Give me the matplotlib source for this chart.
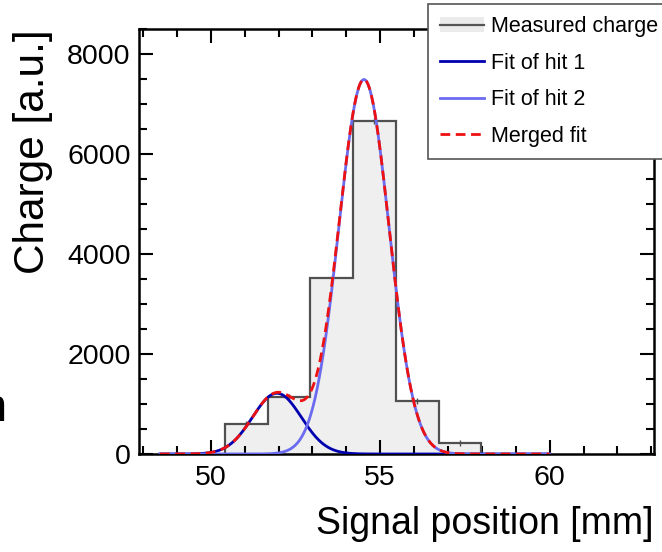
import numpy as np
import matplotlib
matplotlib.use("Agg")
import matplotlib.pyplot as plt
from matplotlib.patches import Patch
from matplotlib.lines import Line2D
from matplotlib.ticker import MultipleLocator

plt.rcParams['font.family'] = ['Liberation Sans', 'DejaVu Sans']

# ---- data ----
bin_edges = [50.42, 51.68, 52.94, 54.20, 55.46, 56.72, 57.98]
bin_charge = [610, 1140, 3530, 6660, 1065, 225]

hit1_amp, hit1_mean, hit1_sigma = 1215, 51.95, 0.72
hit2_amp, hit2_mean, hit2_sigma = 7490, 54.52, 0.74
fit_range = [48.5, 60.0]

legend_labels = ["Measured charge", "Fit of hit 1", "Fit of hit 2", "Merged fit"]
xlabel = "Signal position [mm]"
ylabel = "Charge [a.u.]"

# ---- figure ----
fig = plt.figure(figsize=(6.62, 5.52), dpi=100)
ax = fig.add_axes([139/662, 1-454/552, (654-139)/662, (454-29)/552])

edges = np.array(bin_edges)
vals = np.array(bin_charge)
ax.stairs(vals, edges, fill=True, facecolor='#efefef', edgecolor='none', zorder=1)
ax.stairs(vals, edges, fill=False, edgecolor='#505050', linewidth=1.6, zorder=2)
centers = 0.5 * (edges[:-1] + edges[1:])
ax.plot(centers, vals, linestyle='none', marker='|', markersize=4, color='#505050', zorder=2)

x = np.linspace(fit_range[0], fit_range[1], 800)
g1 = hit1_amp * np.exp(-0.5 * ((x - hit1_mean) / hit1_sigma) ** 2)
g2 = hit2_amp * np.exp(-0.5 * ((x - hit2_mean) / hit2_sigma) ** 2)
ax.plot(x, g1, color='#0000b0', linewidth=2.0, zorder=3)
ax.plot(x, g2, color='#6b6bf0', linewidth=2.0, zorder=4)
ax.plot(x, g1 + g2, color='#ee1111', linewidth=2.0, dashes=(3.5, 2.0), zorder=5)

ax.set_xlim(47.88, 63.08)
ax.set_ylim(0, 8500)
ax.xaxis.set_major_locator(MultipleLocator(5))
ax.xaxis.set_minor_locator(MultipleLocator(1))
ax.yaxis.set_major_locator(MultipleLocator(2000))
ax.yaxis.set_minor_locator(MultipleLocator(500))
ax.tick_params(which='both', direction='in', top=True, right=True, width=1.5, color='black')
ax.tick_params(which='major', length=10, labelsize=20.5)
ax.tick_params(which='minor', length=5.5)
ax.tick_params(axis='x', which='major', pad=8)
ax.tick_params(axis='y', which='major', pad=6)
for s in ax.spines.values():
    s.set_linewidth(1.8)

ax.set_xlabel(xlabel, fontsize=27, loc='right', labelpad=11)
ax.set_ylabel(ylabel, fontsize=30.5, loc='top', labelpad=10)

handles = [
    (Patch(facecolor='#ebebeb', edgecolor='none'), Line2D([], [], color='#555555', linewidth=1.6)),
    Line2D([], [], color='#0000b0', linewidth=2.0),
    Line2D([], [], color='#6b6bf0', linewidth=2.0),
    Line2D([], [], color='#ee1111', linewidth=2.0, dashes=(3.5, 2.0)),
]
leg = fig.legend(handles, legend_labels, loc='upper left',
                 bbox_to_anchor=(428/662, 1 - 4/552), fontsize=15.5,
                 frameon=True, fancybox=False, framealpha=1.0, edgecolor='#555555',
                 handlelength=2.0, handletextpad=0.34, labelspacing=0.72,
                 borderpad=0.58, borderaxespad=0.0)
leg.get_frame().set_linewidth(1.2)

# partial glyph cut by the left edge of the image
fig.text(-0.0295, 1 - 421/552, "n", fontsize=34, ha='left', va='baseline')

fig.savefig("out.png", dpi=100)
